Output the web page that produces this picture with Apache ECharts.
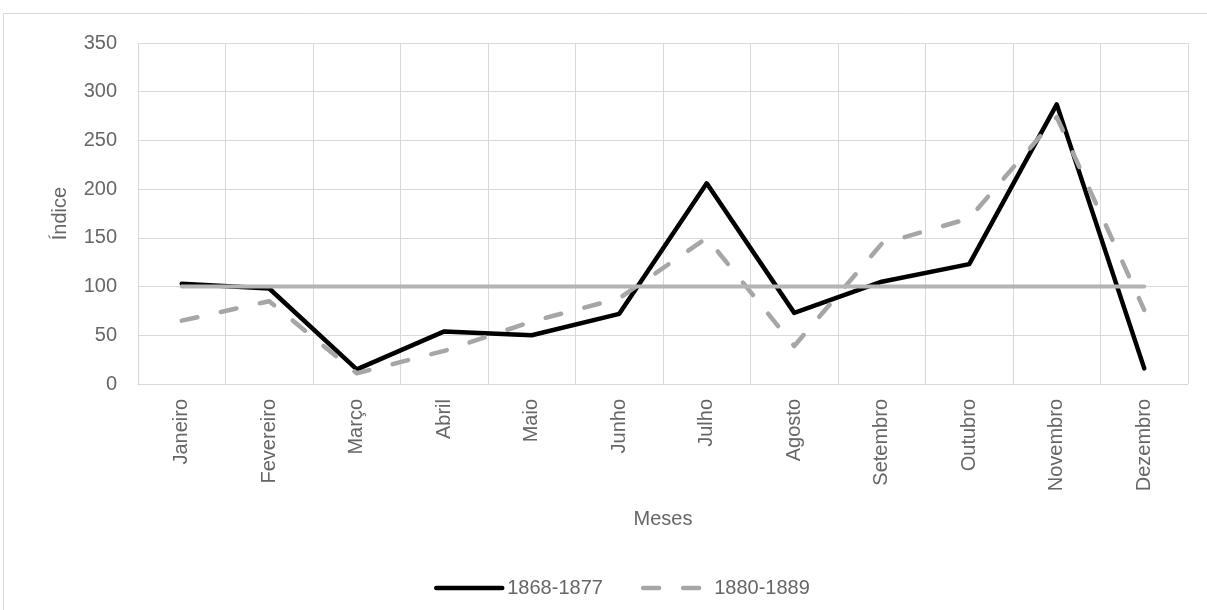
<!DOCTYPE html>
<html>
<head>
<meta charset="utf-8">
<script src="https://cdn.jsdelivr.net/npm/echarts@6/dist/echarts.min.js"></script>
<style>
  html, body { margin: 0; padding: 0; background: #ffffff; }
  #chart { width: 1207px; height: 610px; }
</style>
</head>
<body>
<div id="chart"></div>
<script>
// Meses do ano (eixo das categorias)
const meses = ['Janeiro', 'Fevereiro', 'Março', 'Abril', 'Maio', 'Junho',
               'Julho', 'Agosto', 'Setembro', 'Outubro', 'Novembro', 'Dezembro'];

// Índices mensais por período
const periodo1Nome = '1868-1877';
const periodo1 = [103, 98, 15, 54, 50, 72, 206, 73, 105, 123, 287, 16];

const periodo2Nome = '1880-1889';
const periodo2 = [65, 85, 11, 34, 64, 88, 150, 39, 144, 170, 274, 76];

// Linha de referência (índice = 100)
const base = [100, 100, 100, 100, 100, 100, 100, 100, 100, 100, 100, 100];

// Escala do eixo vertical
const yMin = 0, yMax = 350, yStep = 50;

const textColor = '#666666';
const gridColor = '#d9d9d9';
const fontFamily = '"Liberation Sans", Arial, sans-serif';
const fontSize = 20;

const chart = echarts.init(document.getElementById('chart'), null, { renderer: 'canvas' });

chart.setOption({
  animation: false,
  backgroundColor: '#ffffff',
  textStyle: { fontFamily: fontFamily, color: textColor },
  graphic: [{
    type: 'rect',
    shape: { x: 3.5, y: 13.5, width: 1300, height: 700 },
    style: { fill: 'none', stroke: gridColor, lineWidth: 1 },
    silent: true,
    z: -10
  }],
  grid: { left: 138, right: 19, top: 43, bottom: 226, containLabel: false },
  legend: {
    left: 429,
    top: 573,
    itemWidth: 66,
    itemHeight: 14,
    itemGap: 38,
    data: [periodo1Nome, periodo2Nome],
    itemStyle: { opacity: 0 },
    lineStyle: { width: 4.5, cap: 'round' },
    textStyle: { fontFamily: fontFamily, fontSize: fontSize, color: textColor }
  },
  xAxis: {
    type: 'category',
    data: meses,
    boundaryGap: true,
    name: 'Meses',
    nameLocation: 'middle',
    nameGap: 125,
    nameTextStyle: { fontFamily: fontFamily, fontSize: fontSize, color: textColor },
    axisLine: { show: true, lineStyle: { color: gridColor, width: 1 } },
    axisTick: { show: false },
    axisLabel: {
      rotate: 90,
      margin: 15,
      interval: 0,
      fontFamily: fontFamily,
      fontSize: fontSize,
      color: textColor
    },
    splitLine: { show: true, lineStyle: { color: gridColor, width: 1 } }
  },
  yAxis: {
    type: 'value',
    min: yMin,
    max: yMax,
    interval: yStep,
    name: 'Índice',
    nameLocation: 'middle',
    nameGap: 68,
    nameRotate: 90,
    nameTextStyle: { fontFamily: fontFamily, fontSize: fontSize, color: textColor },
    axisLine: { show: false },
    axisTick: { show: false },
    axisLabel: {
      margin: 21,
      fontFamily: fontFamily,
      fontSize: fontSize,
      color: textColor
    },
    splitLine: { show: true, lineStyle: { color: gridColor, width: 1 } }
  },
  series: [
    {
      name: periodo1Nome,
      type: 'line',
      data: periodo1,
      symbol: 'none',
      lineStyle: { color: '#000000', width: 4.5, cap: 'round', join: 'round' },
      itemStyle: { color: '#000000' },
      z: 2
    },
    {
      name: periodo2Nome,
      type: 'line',
      data: periodo2,
      symbol: 'none',
      lineStyle: { color: '#a6a6a6', width: 4.5, type: [16, 24], cap: 'round', join: 'round' },
      itemStyle: { color: '#a6a6a6' },
      z: 3
    },
    {
      name: 'Base',
      type: 'line',
      data: base,
      symbol: 'none',
      lineStyle: { color: '#b4b4b4', width: 4, cap: 'round' },
      itemStyle: { color: '#b4b4b4' },
      z: 4
    }
  ]
});
</script>
</body>
</html>
